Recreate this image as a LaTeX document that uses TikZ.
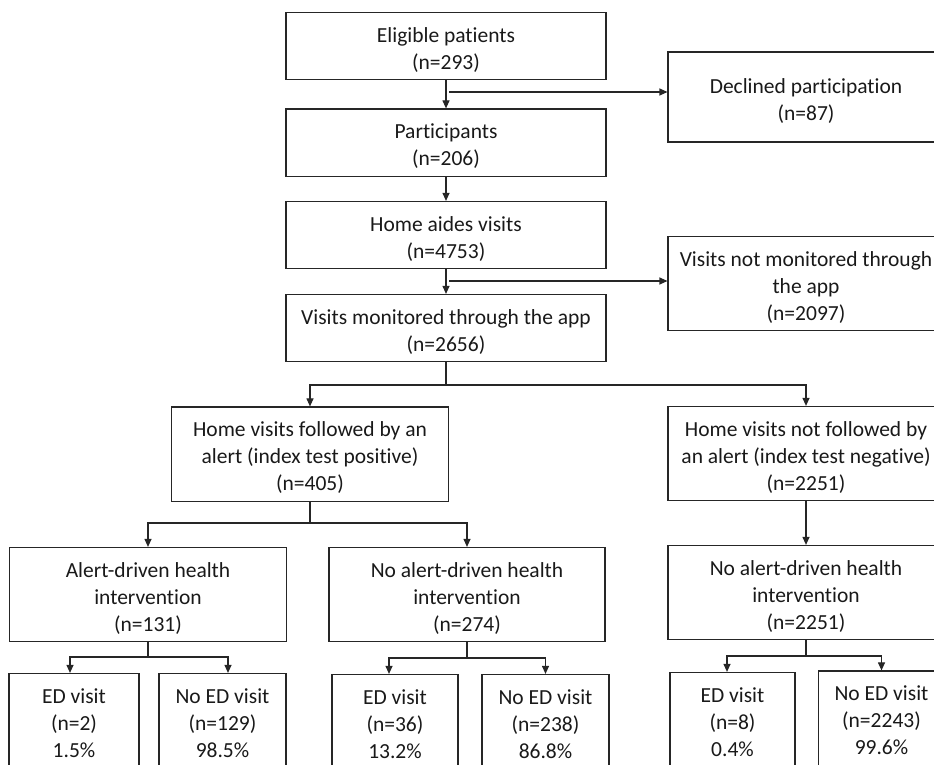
\documentclass[tikz,border=0pt]{standalone}
\usepackage{fontspec}
\setmainfont{Carlito}[RawFeature={-liga;-clig;-dlig;-calt}]
\usetikzlibrary{arrows.meta}
\newcommand{\boxtext}[1]{\begin{tabular}{@{}c@{}}\rule{0pt}{28pt}#1\end{tabular}}

\begin{document}
\begin{tikzpicture}[x=1pt,y=-1pt,
    box/.style={draw=black!85,line width=1.1pt,inner sep=2pt,
                font=\fontsize{21.5}{27}\selectfont,text=black!90},
    arr/.style={draw=black!85,line width=1.1pt,-{Triangle[length=8pt,width=7pt]}},
    ln/.style={draw=black!85,line width=1.1pt}]
            \useasboundingbox (0,0) rectangle (934,764);
            \node[box,minimum width=320,minimum height=64] (elig) at (446,46) {\boxtext{Eligible patients\\(n=293)}};
            \node[box,minimum width=276,minimum height=90] (decl) at (806,97) {\boxtext{Declined participation\\(n=87)}};
            \node[box,minimum width=320,minimum height=63] (part) at (446,142.5) {\boxtext{Participants\\(n=206)}};
            \node[box,minimum width=320,minimum height=64] (aides) at (446,235) {\boxtext{Home aides visits\\(n=4753)}};
            \node[box,minimum width=276,minimum height=89] (notmon) at (806,283.5) {\boxtext{Visits not monitored through\\the app\\(n=2097)}};
            \node[box,minimum width=320,minimum height=64] (mon) at (446,328) {\boxtext{Visits monitored through the app\\(n=2656)}};

            \node[box,minimum width=277,minimum height=89] (pos) at (310,454) {\boxtext{Home visits followed by an\\alert (index test positive)\\(n=405)}};
            \node[box,minimum width=276,minimum height=89] (neg) at (806,453.5) {\boxtext{Home visits not followed by\\an alert (index test negative)\\(n=2251)}};

            \node[box,minimum width=277,minimum height=90] (alert) at (148,594.5) {\boxtext{Alert-driven health\\intervention\\(n=131)}};
            \node[box,minimum width=276,minimum height=90] (noalert) at (467,594.5) {\boxtext{No alert-driven health\\intervention\\(n=274)}};
            \node[box,minimum width=276,minimum height=89] (noalertneg) at (806,592.5) {\boxtext{No alert-driven health\\intervention\\(n=2251)}};

            \node[box,minimum width=130,minimum height=89] (edA) at (74,720.5) {\boxtext{ED visit\\(n=2)\\1.5\%}};
            \node[box,minimum width=127,minimum height=89] (noedA) at (222.5,720.5) {\boxtext{No ED visit\\(n=129)\\98.5\%}};
            \node[box,minimum width=126,minimum height=89] (edB) at (395,721.5) {\boxtext{ED visit\\(n=36)\\13.2\%}};
            \node[box,minimum width=127,minimum height=89] (noedB) at (545.5,721.5) {\boxtext{No ED visit\\(n=238)\\86.8\%}};
            \node[box,minimum width=125,minimum height=91] (edC) at (732.5,719.5) {\boxtext{ED visit\\(n=8)\\0.4\%}};
            \node[box,minimum width=126,minimum height=88] (noedC) at (881.5,718) {\boxtext{No ED visit\\(n=2243)\\99.6\%}};

            \coordinate (b1) at (elig.south |- 0,92);
            \coordinate (b2) at (aides.south |- 0,281);
            \draw[arr] (elig.south) -- (part.north);
            \draw[arr] ([xshift=3pt]b1) -- (b1 -| decl.west);
            \draw[arr] (part.south) -- (aides.north);
            \draw[arr] (aides.south) -- (mon.north);
            \draw[arr] ([xshift=3pt]b2) -- (b2 -| notmon.west);

            \coordinate (f1) at (mon.south |- 0,385);
            \draw[ln] (mon.south) -- (f1);
            \draw[arr] (f1) -| (pos.north);
            \draw[arr] (f1) -| (neg.north);

            \coordinate (f2) at (pos.south |- 0,523);
            \draw[ln] (pos.south) -- (f2);
            \draw[arr] (f2) -| (alert.north);
            \draw[arr] (f2) -| (noalert.north);
            \draw[arr] (neg.south) -- (noalertneg.north);

            \coordinate (f3) at (alert.south |- 0,657);
            \draw[ln] (alert.south) -- (f3);
            \draw[arr] (f3) -| ([xshift=-4pt]edA.north);
            \draw[arr] (f3) -| ([xshift=5.5pt]noedA.north);
            \coordinate (f4) at (noalert.south |- 0,658);
            \draw[ln] (noalert.south) -- (f4);
            \draw[arr] (f4) -| ([xshift=-6pt]edB.north);
            \draw[arr] (f4) -| (noedB.north);
            \coordinate (f5) at (noalertneg.south |- 0,656);
            \draw[ln] (noalertneg.south) -- (f5);
            \draw[arr] (f5) -| ([xshift=-5.5pt]edC.north);
            \draw[arr] (f5) -| (noedC.north);
        \end{tikzpicture}
\end{document}
